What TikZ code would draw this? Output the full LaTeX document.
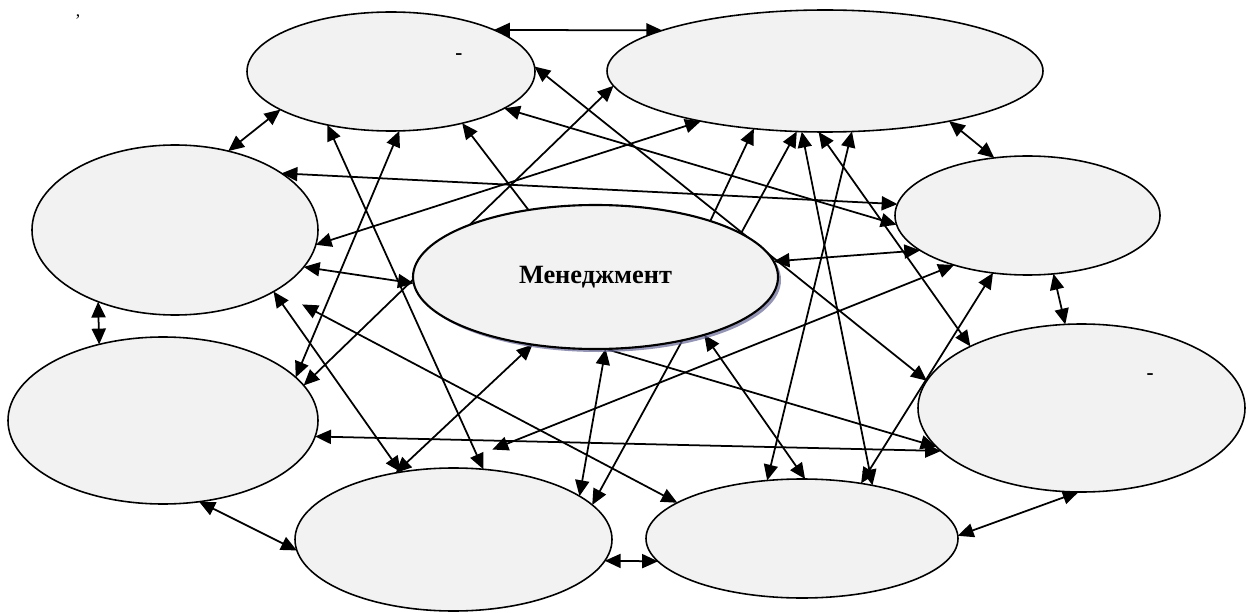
\documentclass[tikz,border=0pt]{standalone}
\usepackage{fontspec}
\setmainfont{Liberation Serif}
\usetikzlibrary{shapes.geometric,arrows.meta,shadows,backgrounds}
\begin{document}
\begin{tikzpicture}[x=.2mm,y=-.2mm,>={Triangle[length=9pt,width=8pt]},
	bubble/.style={draw,ellipse,fill=black!5,line width=.9pt,inner sep=0pt,outer sep=0pt}]
	\useasboundingbox(0,0)rectangle(1250,613);
	\node(tl)[bubble,minimum width=57.6mm,minimum height=23.8mm]at(391,71.5){};
	\node(tr)[bubble,minimum width=87.2mm,minimum height=24.4mm]at(825,71){};
	\node(lt)[bubble,minimum width=57.2mm,minimum height=34mm]at(175,230){};
	\node(rt)[bubble,minimum width=53mm,minimum height=23.8mm]at(1027.5,215.5){};
	\node(m)[bubble,line width=1.2pt,minimum width=73mm,minimum height=28.8mm,
		drop shadow={shadow xshift=.6mm,shadow yshift=-.6mm,fill=blue!30!black!60,opacity=.7},
		font=\bfseries\fontsize{15}{18}\selectfont]at(595.5,277){Менеджмент};
	\node(lb)[bubble,minimum width=62mm,minimum height=33.4mm]at(163,420.5){};
	\node(rb)[bubble,minimum width=65.4mm,minimum height=33.6mm]at(1081.5,408){};
	\node(bl)[bubble,minimum width=63.4mm,minimum height=28.6mm]at(453.5,539.5){};
	\node(br)[bubble,minimum width=62.4mm,minimum height=23.8mm]at(802,538.5){};
	\node(d1)[font=\bfseries\large]at(459,57){-};
	\node(d2)[font=\bfseries\large]at(1150,377){-};
	\node(cm)[anchor=base,inner sep=0pt]at(78,17){,};
	\begin{scope}[on background layer]
	\tikzset{every path/.style={<->,line width=1pt}}
	\draw(tl.22)--(tr.166);
	\draw(tl.-161)--(lt.56);
	\draw(lt.-137)--(lb.130);
	\draw(lb.-66)--(bl.-176);
	\draw(bl.-8)--(br.-171);
	\draw(br.1)--(rb.-92);
	\draw(rt.-66)--(rb.101);
	\draw(tr.-22)--(rt.120);
	\draw(tl.-140)--(bl.67);
	\draw(tl.-82)--(lb.18);
	\draw[->](m.135)--(tl.-36);
	\draw(tl.-18)--(rt.-176);
	\draw(tl.2)--(rb.170);
	\draw(tr.-176)--(lb.14);
	\draw(tr.-158)--(lt.-6);
	\draw[->](m.26)--(tr.-141);
	\draw(tr.-115)--(bl.14);
	\draw(tr.-96)--(rb.151);
	\draw(tr.-66)--(br.121);
	\draw(tr.-111)--(br.37);
	\draw(lt.28)--(rt.175);
	\draw(lt.-16)--(m.-178);
	\draw(lt.-32)--(bl.128);
	\draw[shorten <=6mm](lt.-31)--(br.164);
	\draw(lb.-6)--(rb.-163);
	\draw(m.5)--(rt.-162);
	\draw[shorten <=10mm](bl.96)--(rt.-146);
	\draw(rt.-121)--(br.43);
	\draw(m.-133)--(bl.131);
	\draw(m.-82)--(bl.19);
	\draw[->](m.-82)--(rb.-165);
	\draw(m.-28)--(br.87);
	\end{scope}
\end{tikzpicture}
\end{document}
